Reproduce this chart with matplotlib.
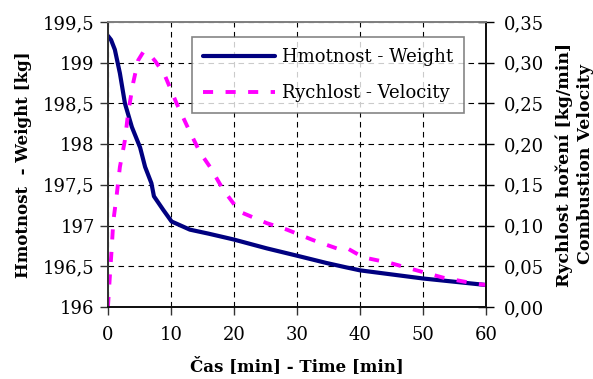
import matplotlib
matplotlib.use("Agg")
import matplotlib.pyplot as plt
from matplotlib.ticker import FuncFormatter, MultipleLocator

plt.rcParams['font.family'] = ['DejaVu Serif']

# Weight [kg] over time [min]
time_w = [0, 0.5, 1.1, 1.9, 2.7, 3.8, 5.1, 5.9, 6.9, 7.3, 8.8, 10.1, 13, 16, 19.9, 25.2, 30, 34.7, 37.6, 40, 45, 50, 55, 60]
weight = [199.33, 199.28, 199.16, 198.87, 198.5, 198.21, 197.96, 197.72, 197.52, 197.36, 197.19, 197.05, 196.95, 196.9,
          196.83, 196.72, 196.63, 196.54, 196.49, 196.45, 196.4, 196.35, 196.31, 196.27]

# Combustion velocity [kg/min]
time_v = [0, 0.3, 0.6, 0.85, 1.4, 1.9, 2.7, 3.2, 4.0, 4.8, 5.6, 6.4, 7.5, 9, 10.9, 12.7, 14.6, 16.2, 18.3, 20.9,
          25.2, 28.4, 32.6, 36.3, 38, 40.5, 44.8, 49, 53.2, 58, 60]
velocity = [0.0, 0.037, 0.072, 0.105, 0.138, 0.172, 0.205, 0.238, 0.275, 0.303, 0.313, 0.312, 0.302, 0.285, 0.25,
            0.22, 0.19, 0.172, 0.144, 0.117, 0.103, 0.095, 0.082, 0.072, 0.072, 0.061, 0.054, 0.045, 0.036, 0.029, 0.027]

fig = plt.figure(figsize=(5.93, 3.79), dpi=100)
ax = fig.add_axes([0.182, 0.19, 0.6376, 0.752])
ax2 = ax.twinx()

l1, = ax.plot(time_w, weight, color='#000080', lw=3.0, label='Hmotnost - Weight', solid_capstyle='round')
l2, = ax2.plot(time_v, velocity, color='#FF00FF', lw=2.8, ls=(0, (2.6, 3.2)), label='Rychlost - Velocity')

ax.set_xlim(0, 60)
ax.set_ylim(196, 199.5)
ax2.set_ylim(0, 0.35)
ax.xaxis.set_major_locator(MultipleLocator(10))
ax.yaxis.set_major_locator(MultipleLocator(0.5))
ax2.yaxis.set_major_locator(MultipleLocator(0.05))

ax.yaxis.set_major_formatter(FuncFormatter(lambda v, p: ('%g' % v).replace('.', ',')))
ax2.yaxis.set_major_formatter(FuncFormatter(lambda v, p: ('%.2f' % v).replace('.', ',')))

ax.grid(True, color='black', ls=(0, (5, 4)), lw=0.8)
ax.tick_params(axis='both', labelsize=13, length=6, width=1, color='#333333')
ax.tick_params(axis='x', pad=8)
ax2.tick_params(axis='y', labelsize=13, direction='inout', length=12, width=1, pad=7)

for a in (ax, ax2):
    a.spines['top'].set_color('#808080')
    a.spines['left'].set_color('#333333')
    a.spines['right'].set_color('#111111')
    a.spines['bottom'].set_color('#111111')
    for s in a.spines.values():
        s.set_linewidth(1.3)

ax.set_xlabel('Čas [min] - Time [min]', fontsize=12, fontweight='bold', labelpad=9)
ax.set_ylabel('Hmotnost  - Weight [kg]', fontsize=12, fontweight='bold', labelpad=8)
ax2.set_ylabel('Rychlost hoření [kg/min]\nCombustion Velocity', fontsize=12.5, fontweight='bold',
               labelpad=8, linespacing=1.35)

leg = ax2.legend(handles=[l1, l2], loc='upper left', bbox_to_anchor=(0.222, 0.947), fontsize=13,
                 frameon=True, fancybox=False, handlelength=4.0, borderpad=0.6, labelspacing=1.0,
                 handletextpad=0.4, borderaxespad=0)
leg.get_frame().set_edgecolor('#666666')
leg.get_frame().set_linewidth(1.2)

fig.savefig('out.png', dpi=100)
